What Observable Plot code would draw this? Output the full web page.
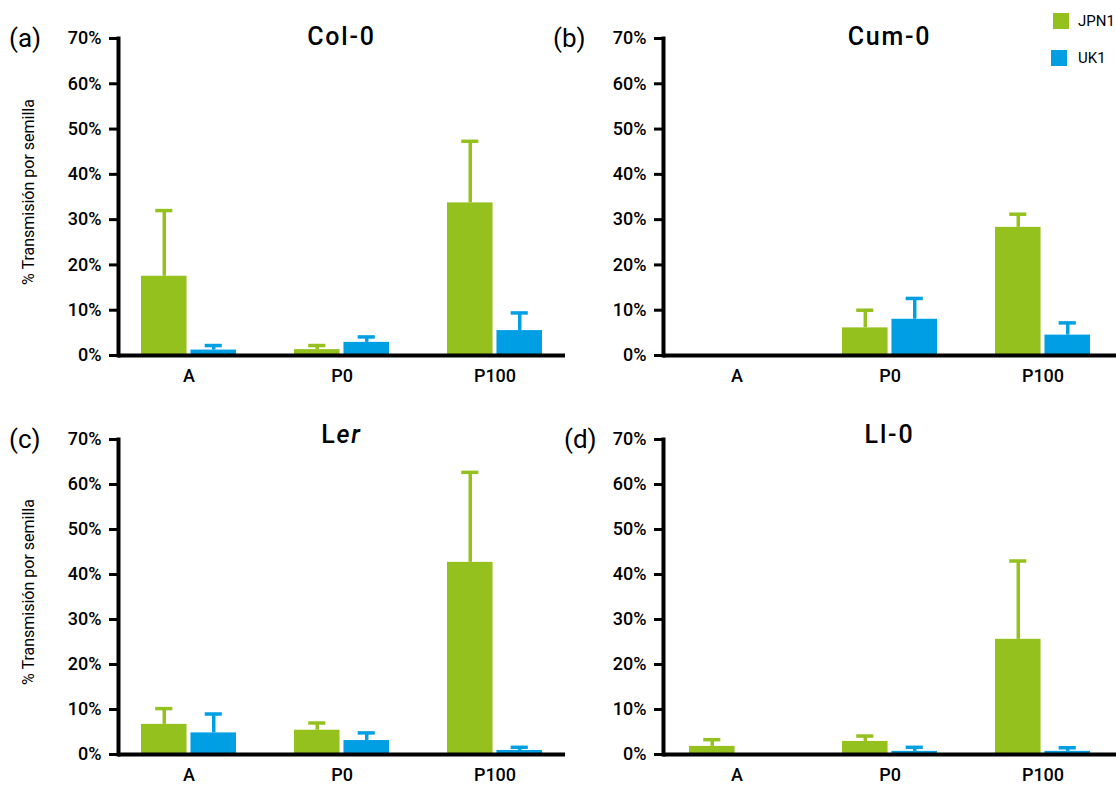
<!DOCTYPE html>
<html>
<head>
<meta charset="utf-8">
<script src="https://cdn.jsdelivr.net/npm/d3@7"></script>
<script src="https://cdn.jsdelivr.net/npm/@observablehq/plot@0.6"></script>
<style>
  html, body { margin: 0; padding: 0; background: #fff; }
  #root { position: relative; width: 1116px; height: 785px; overflow: hidden; font-family: Roboto, "DejaVu Sans", sans-serif; color: #000; }
  .panel { position: absolute; }
  .title { position: absolute; text-align: center; font-size: 25px; line-height: 25px; font-weight: 500; letter-spacing: 1.8px; }
  .plabel { position: absolute; font-size: 26px; line-height: 26px; }
  .leg { position: absolute; font-size: 15px; line-height: 15px; }
  .sw { position: absolute; width: 16px; height: 16px; }
</style>
</head>
<body>
<div id="root"></div>
<script>
// ---- data ----
const categories = ["A", "P0", "P100"];
const seriesNames = ["JPN1", "UK1"];
const panelNames = ["Col-0", "Cum-0", "Ler", "Ll-0"];
const panelTags = ["(a)", "(b)", "(c)", "(d)"];
const yTicks = [0, 10, 20, 30, 40, 50, 60, 70];
const yAxisLabel = "% Transmisión por semilla";

const colJPN1 = [17.5, 1.3, 33.7];
const colJPN1Err = [32.0, 2.2, 47.3];
const colUK1 = [1.2, 2.9, 5.5];
const colUK1Err = [2.2, 4.1, 9.4];

const cumJPN1 = [null, 6.1, 28.3];
const cumJPN1Err = [null, 10.0, 31.2];
const cumUK1 = [null, 8.0, 4.5];
const cumUK1Err = [null, 12.6, 7.2];

const lerJPN1 = [6.7, 5.4, 42.7];
const lerJPN1Err = [10.2, 7.0, 62.7];
const lerUK1 = [4.8, 3.1, 0.9];
const lerUK1Err = [9.0, 4.8, 1.6];

const llJPN1 = [1.8, 2.9, 25.6];
const llJPN1Err = [3.3, 4.1, 43.0];
const llUK1 = [null, 0.7, 0.7];
const llUK1Err = [null, 1.6, 1.5];

const GREEN = "#95c11f";
const BLUE = "#009fe3";

function makePanel(cfg) {
  const pi = 0.38;
  const ml = 118, mr = 0;
  const range = cfg.width - ml - mr;
  const step = range / (categories.length - pi + 2 * cfg.po);
  const bw = step * (1 - pi);
  const gap = 4;
  const barW = (bw - gap) / 2;
  const capW = 17;
  const rows = categories.map((c, i) => ({cat: c, jv: cfg.jpn[i], je: cfg.jpnErr[i], uv: cfg.uk[i], ue: cfg.ukErr[i]}));
  const jRows = rows.filter(d => d.jv != null);
  const uRows = rows.filter(d => d.uv != null);
  const marks = [
    Plot.barY(jRows, {x: "cat", y: "jv", fill: GREEN, insetLeft: 0, insetRight: barW + gap}),
    Plot.barY(uRows, {x: "cat", y: "uv", fill: BLUE, insetLeft: barW + gap, insetRight: 0}),
    Plot.ruleX(jRows, {x: "cat", y1: "jv", y2: "je", stroke: GREEN, strokeWidth: 3.5, dx: -(barW + gap) / 2}),
    Plot.ruleX(uRows, {x: "cat", y1: "uv", y2: "ue", stroke: BLUE, strokeWidth: 3.5, dx: (barW + gap) / 2}),
    Plot.tickY(jRows, {x: "cat", y: "je", stroke: GREEN, strokeWidth: 3.5, insetLeft: barW / 2 - capW / 2, insetRight: bw - barW / 2 - capW / 2}),
    Plot.tickY(uRows, {x: "cat", y: "ue", stroke: BLUE, strokeWidth: 3.5, insetLeft: barW + gap + barW / 2 - capW / 2, insetRight: barW / 2 - capW / 2}),
    Plot.axisY({ticks: yTicks, tickFormat: d => d + "%", tickSize: 9, tickPadding: 8, strokeWidth: 3, label: null, fontSize: 18}),
    Plot.axisX({tickSize: 0, tickPadding: 14, label: null, fontSize: 18}),
    Plot.ruleY([0], {stroke: "black", strokeWidth: 4}),
    Plot.frame({anchor: "left", stroke: "black", strokeWidth: 4})
  ];
  if (cfg.yLabel) {
    marks.push(Plot.text([yAxisLabel], {frameAnchor: "left", textAnchor: "middle", rotate: -90, dx: -90, dy: -5, fontSize: 16, fontWeight: 400}));
  }
  return Plot.plot({
    width: cfg.width,
    height: cfg.height,
    marginLeft: ml,
    marginRight: mr,
    marginTop: cfg.marginTop,
    marginBottom: cfg.marginBottom,
    style: {fontFamily: "Roboto, 'DejaVu Sans', sans-serif", fontWeight: 500, color: "#000", background: "transparent", overflow: "visible"},
    x: {type: "band", domain: categories, paddingInner: pi, paddingOuter: cfg.po, align: 0.5, axis: null},
    y: {domain: [0, 70], axis: null},
    marks
  });
}

const root = document.getElementById("root");
const panels = [
  {left: 0, top: 0, width: 565, height: 392, marginTop: 38, marginBottom: 37, po: 0.15, yLabel: true,
   jpn: colJPN1, jpnErr: colJPN1Err, uk: colUK1, ukErr: colUK1Err},
  {left: 545, top: 0, width: 571, height: 392, marginTop: 38, marginBottom: 37, po: 0.17, yLabel: false,
   jpn: cumJPN1, jpnErr: cumJPN1Err, uk: cumUK1, ukErr: cumUK1Err},
  {left: 0, top: 401, width: 565, height: 390, marginTop: 38, marginBottom: 37, po: 0.15, yLabel: true,
   jpn: lerJPN1, jpnErr: lerJPN1Err, uk: lerUK1, ukErr: lerUK1Err},
  {left: 545, top: 401, width: 571, height: 390, marginTop: 38, marginBottom: 37, po: 0.17, yLabel: false,
   jpn: llJPN1, jpnErr: llJPN1Err, uk: llUK1, ukErr: llUK1Err}
];
const titleTops = [24, 24, 422, 422];
const tagPos = [[9, 25], [553, 25], [9, 426], [564, 426]];

panels.forEach((cfg, i) => {
  const div = document.createElement("div");
  div.className = "panel";
  div.style.left = cfg.left + "px";
  div.style.top = cfg.top + "px";
  div.style.width = cfg.width + "px";
  div.appendChild(makePanel(cfg));
  root.appendChild(div);

  const t = document.createElement("div");
  t.className = "title";
  t.style.left = (cfg.left + 118) + "px";
  t.style.width = (cfg.width - 118) + "px";
  t.style.top = titleTops[i] + "px";
  if (panelNames[i] === "Ler") {
    t.innerHTML = "L<i>er</i>";
  } else {
    t.textContent = panelNames[i];
  }
  root.appendChild(t);

  const p = document.createElement("div");
  p.className = "plabel";
  p.style.left = tagPos[i][0] + "px";
  p.style.top = tagPos[i][1] + "px";
  p.textContent = panelTags[i];
  root.appendChild(p);
});

// legend
const legColors = [GREEN, BLUE];
const legY = [13, 50];
seriesNames.forEach((s, i) => {
  const sw = document.createElement("div");
  sw.className = "sw";
  sw.style.left = (1053 - 2 * i) + "px";
  sw.style.top = legY[i] + "px";
  sw.style.background = legColors[i];
  root.appendChild(sw);
  const tx = document.createElement("div");
  tx.className = "leg";
  tx.style.left = "1078px";
  tx.style.top = (legY[i] + 1) + "px";
  tx.textContent = s;
  root.appendChild(tx);
});
</script>
</body>
</html>
